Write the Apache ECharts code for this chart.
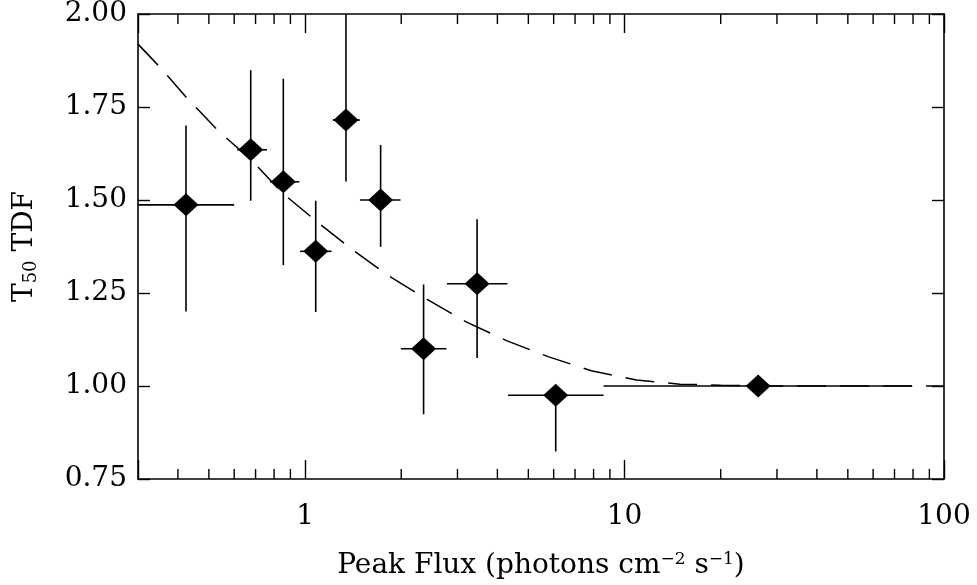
<!DOCTYPE html>
<html>
<head>
<meta charset="utf-8">
<script src="https://cdn.jsdelivr.net/npm/echarts@6/dist/echarts.min.js"></script>
<style>html,body{margin:0;padding:0;background:#fff}#c{width:977px;height:585px}</style>
</head>
<body>
<div id="c"></div>
<script>
// Data
const peakFlux  = [0.424, 0.676, 0.855, 1.08, 1.343, 1.724, 2.35, 3.456, 6.09, 26.2];
const t50Tdf    = [1.487, 1.635, 1.549, 1.362, 1.715, 1.500, 1.100, 1.275, 0.975, 1.000];
const fluxLow   = [0.30, 0.613, 0.777, 0.965, 1.22, 1.485, 1.995, 2.78, 4.32, 8.6];
const fluxHigh  = [0.60, 0.76, 0.96, 1.21, 1.485, 1.99, 2.77, 4.30, 8.6, 79.5];
const tdfLow    = [1.200, 1.498, 1.325, 1.199, 1.550, 1.374, 0.924, 1.075, 0.824, 1.000];
const tdfHigh   = [1.700, 1.849, 1.826, 1.498, 2.000, 1.648, 1.273, 1.448, 0.990, 1.000];

const curveX = [0.3, 0.348, 0.427, 0.536, 0.673, 0.846, 1.088, 1.40, 1.82, 2.40, 3.18, 4.27, 5.76, 7.87, 10.9, 14.9, 20, 30, 50, 100];
const curveY = [1.919, 1.861, 1.774, 1.685, 1.611, 1.520, 1.442, 1.368, 1.297, 1.234, 1.173, 1.122, 1.079, 1.041, 1.016, 1.005, 1.002, 1.000, 1.000, 1.000];

const xMin = 0.3, xMax = 100;
const yMin = 0.75, yMax = 2.00, yStep = 0.25;
const xMajorLabels = [1, 10, 100];
const xMinorTicks = [0.4, 0.5, 0.6, 0.7, 0.8, 0.9, 2, 3, 4, 5, 6, 7, 8, 9, 20, 30, 40, 50, 60, 70, 80, 90];

const FONT = 'DejaVu Serif';
const chart = echarts.init(document.getElementById('c'), null, {renderer: 'canvas'});

const axisLine = {show: true, lineStyle: {color: '#000', width: 1.6}};
const xAxisBase = {
  type: 'log', logBase: 10, min: xMin, max: xMax,
  axisLine: axisLine,
  axisTick: {show: true, inside: true, length: 19, lineStyle: {color: '#000', width: 1.4}},
  splitLine: {show: false}
};
const yAxisBase = {
  type: 'value', min: yMin, max: yMax, interval: yStep,
  axisLine: axisLine,
  axisTick: {show: true, inside: true, length: 12, lineStyle: {color: '#000', width: 1.4}},
  splitLine: {show: false}
};

const option = {
  backgroundColor: '#fff',
  animation: false,
  grid: {left: 138, right: 33, top: 9, bottom: 96, containLabel: false},
  xAxis: [
    Object.assign({}, xAxisBase, {
      position: 'bottom',
      axisLabel: {
        show: true, margin: 24, color: '#000', fontFamily: FONT, fontSize: 28,
        formatter: function (v) {
          const r = Math.round(v * 1000) / 1000;
          return xMajorLabels.indexOf(r) >= 0 ? String(r) : '';
        }
      },
      name: '{a|Peak Flux (photons cm}{s|−2}{a| s}{s|−1}{a|)}',
      nameLocation: 'middle', nameGap: 72,
      nameTextStyle: {
        color: '#000', fontFamily: FONT, fontSize: 28,
        rich: {
          a: {fontFamily: FONT, fontSize: 28, color: '#000'},
          s: {fontFamily: FONT, fontSize: 17, color: '#000', padding: [0, 0, 13, 0]}
        }
      }
    }),
    Object.assign({}, xAxisBase, {position: 'top', axisLabel: {show: false}})
  ],
  yAxis: [
    Object.assign({}, yAxisBase, {
      position: 'left',
      axisLabel: {show: true, margin: 11, color: '#000', fontFamily: FONT, fontSize: 28,
        formatter: function (v) { return v.toFixed(2); }},
      name: '{a|T}{b|50}{a| TDF}',
      nameLocation: 'middle', nameGap: 98,
      nameTextStyle: {
        color: '#000', fontFamily: FONT, fontSize: 28,
        rich: {
          a: {fontFamily: FONT, fontSize: 28, color: '#000'},
          b: {fontFamily: FONT, fontSize: 18, color: '#000', padding: [12, 0, 0, 0]}
        }
      }
    }),
    Object.assign({}, yAxisBase, {position: 'right', axisLabel: {show: false}})
  ],
  series: [
    {
      type: 'custom', name: 'minorTicks', xAxisIndex: 0, yAxisIndex: 0,
      data: xMinorTicks.map(v => [v, yMin]),
      encode: {x: 0, y: 1}, silent: true, z: 3,
      renderItem: function (params, api) {
        const v = api.value(0);
        const b = api.coord([v, yMin]);
        const t = api.coord([v, yMax]);
        const st = {stroke: '#000', lineWidth: 1.4};
        return {type: 'group', children: [
          {type: 'line', shape: {x1: b[0], y1: b[1], x2: b[0], y2: b[1] - 10}, style: st},
          {type: 'line', shape: {x1: t[0], y1: t[1], x2: t[0], y2: t[1] + 10}, style: st}
        ]};
      }
    },
    {
      type: 'line', name: 'model', xAxisIndex: 0, yAxisIndex: 0,
      data: curveX.map((x, i) => [x, curveY[i]]),
      showSymbol: false, symbol: 'none', smooth: false, clip: true, z: 2,
      lineStyle: {color: '#000', width: 1.5, type: [29, 14]}
    },
    {
      type: 'custom', name: 'errors', xAxisIndex: 0, yAxisIndex: 0,
      data: peakFlux.map((x, i) => [x, t50Tdf[i], fluxLow[i], fluxHigh[i], tdfLow[i], tdfHigh[i]]),
      encode: {x: 0, y: 1}, z: 4,
      renderItem: function (params, api) {
        const x = api.value(0), y = api.value(1);
        const l = api.coord([api.value(2), y]);
        const r = api.coord([api.value(3), y]);
        const b = api.coord([x, api.value(4)]);
        const t = api.coord([x, api.value(5)]);
        const st = {stroke: '#000', lineWidth: 1.6};
        return {type: 'group', children: [
          {type: 'line', shape: {x1: l[0], y1: l[1], x2: r[0], y2: r[1]}, style: st},
          {type: 'line', shape: {x1: b[0], y1: b[1], x2: t[0], y2: t[1]}, style: st}
        ]};
      }
    },
    {
      type: 'scatter', name: 'points', xAxisIndex: 0, yAxisIndex: 0,
      data: peakFlux.map((x, i) => [x, t50Tdf[i]]),
      symbol: 'diamond', symbolSize: [25, 23], z: 10,
      itemStyle: {color: '#000', opacity: 1}
    }
  ]
};
chart.setOption(option);
</script>
</body>
</html>
